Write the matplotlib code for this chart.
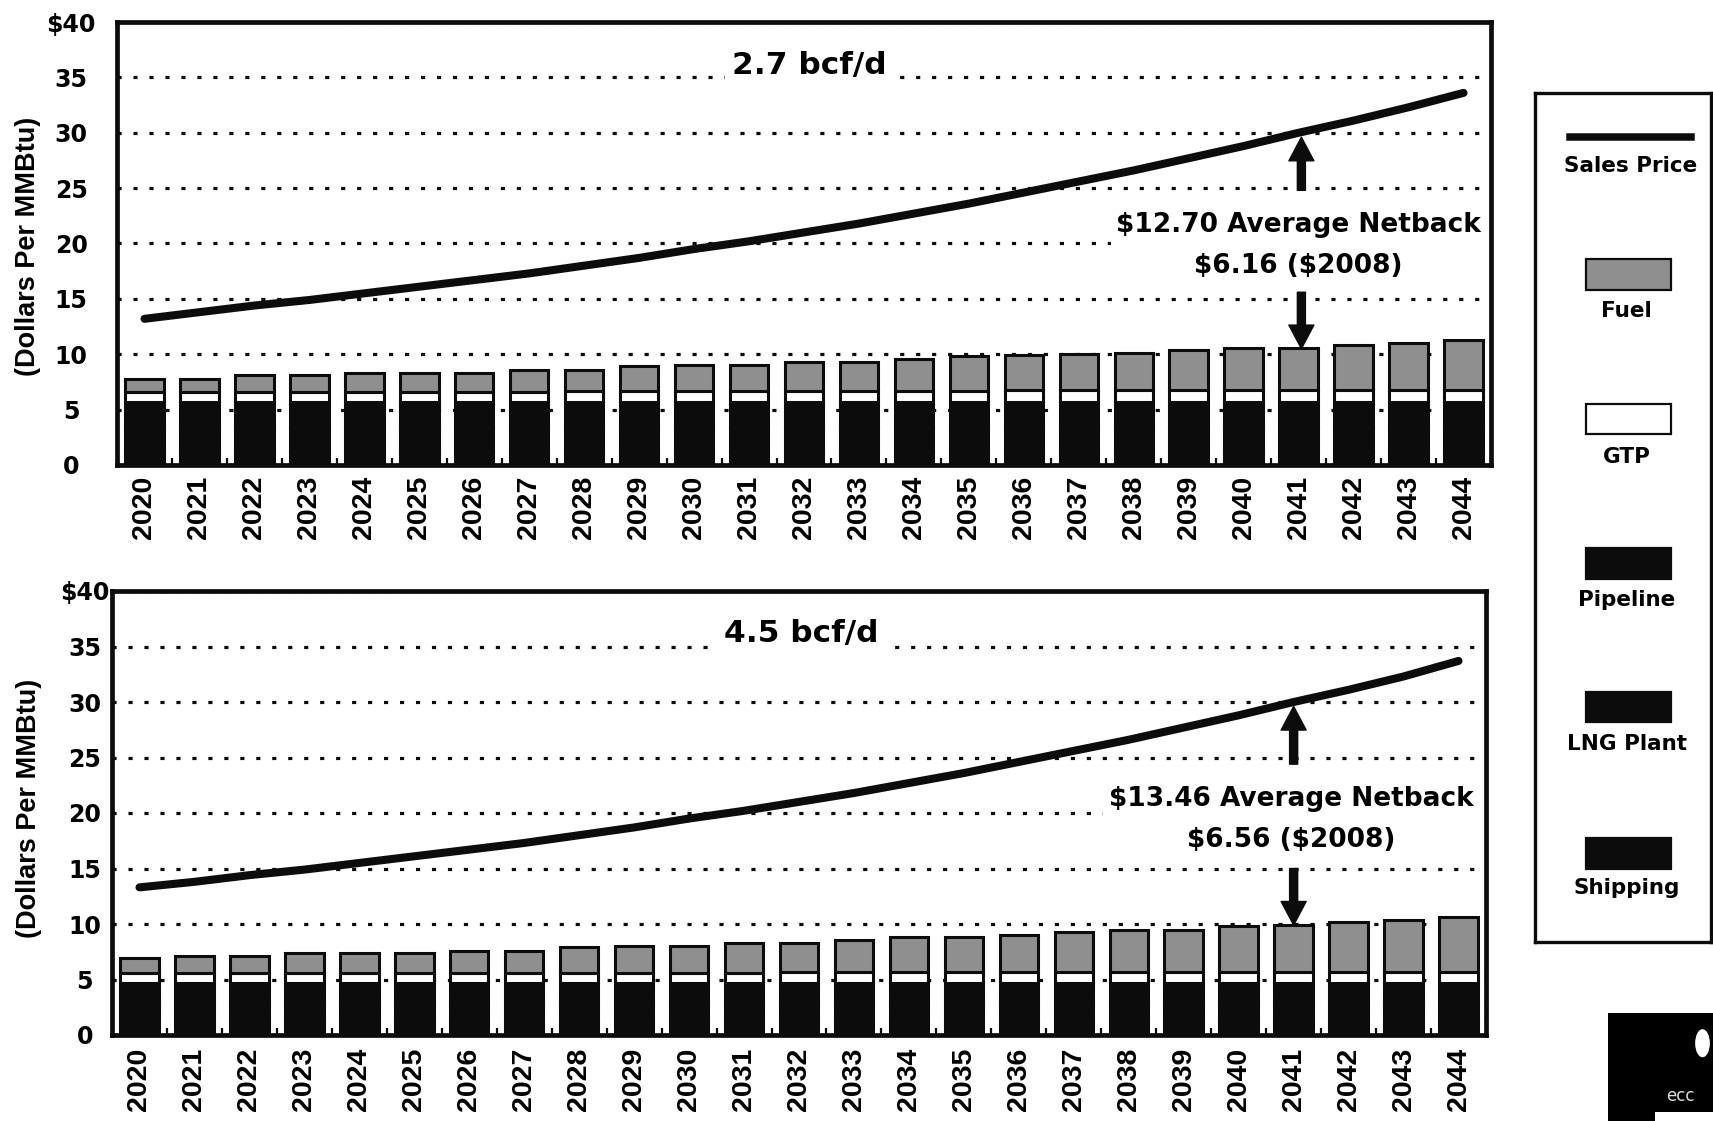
import matplotlib
matplotlib.use("Agg")
import matplotlib.pyplot as plt
from matplotlib import font_manager as fm
from matplotlib.patches import Rectangle, Ellipse
from matplotlib.lines import Line2D
from matplotlib.ticker import FixedLocator

# ---------------- data ----------------
years = [str(y) for y in range(2020, 2045)]

# 2.7 bcf/d case ($/MMBtu)
shipping_27 = [1.30] * 25
lng_plant_27 = [2.05] * 25
pipeline_27 = [2.30] * 25
gtp_27 = [0.95] * 8 + [1.00] * 8 + [1.10] * 9
fuel_27 = [1.20, 1.20, 1.50, 1.50, 1.70, 1.70, 1.70, 2.00, 1.95, 2.25,
           2.35, 2.35, 2.65, 2.65, 2.95, 3.15, 3.15, 3.30, 3.40, 3.65,
           3.80, 3.80, 4.10, 4.30, 4.55]
sales_27 = [13.2, 13.8, 14.4, 14.9, 15.5, 16.1, 16.7, 17.3, 18.0, 18.7,
            19.5, 20.2, 21.0, 21.8, 22.7, 23.6, 24.6, 25.6, 26.6, 27.7,
            28.8, 30.0, 31.1, 32.3, 33.6]

# 4.5 bcf/d case ($/MMBtu)
shipping_45 = [1.10] * 25
lng_plant_45 = [1.60] * 25
pipeline_45 = [1.95] * 25
gtp_45 = [0.95] * 12 + [1.05] * 13
fuel_45 = [1.35, 1.50, 1.50, 1.80, 1.80, 1.80, 2.00, 1.95, 2.30, 2.40,
           2.40, 2.70, 2.60, 2.90, 3.10, 3.10, 3.30, 3.60, 3.80, 3.80,
           4.10, 4.20, 4.45, 4.70, 4.90]
sales_45 = [13.3, 13.8, 14.4, 14.9, 15.5, 16.1, 16.7, 17.3, 18.0, 18.7,
            19.5, 20.2, 21.0, 21.8, 22.7, 23.6, 24.6, 25.6, 26.6, 27.7,
            28.8, 30.0, 31.1, 32.3, 33.7]

y_ticks = [0, 5, 10, 15, 20, 25, 30, 35, 40]
y_tick_labels = ["0", "5", "10", "15", "20", "25", "30", "35", "$40"]

legend_labels = ["Sales Price", "Fuel", "GTP", "Pipeline", "LNG Plant", "Shipping"]

# ---------------- style ----------------
BLACK = "#0c0c0c"
FUEL = "#8f8f8f"
WIDE = "DejaVu Sans"


def has_font(name):
    try:
        fm.findfont(fm.FontProperties(family=name), fallback_to_default=False)
        return True
    except Exception:
        return False


if has_font("Liberation Sans Narrow"):
    YEAR_FONT, YEAR_SIZE = "Liberation Sans Narrow", 24.5
else:
    YEAR_FONT, YEAR_SIZE = "Liberation Sans", 20.5

fig = plt.figure(figsize=(17.13, 11.21), dpi=100)
W, H = 1713.0, 1121.0


def px_axes(left, top, right, bottom):
    return fig.add_axes([left / W, 1 - bottom / H, (right - left) / W, (bottom - top) / H])


def draw_panel(ax, ship, lng, pipe, gtp, fuel, sales, title, note, note_xy,
               up_arrow, down_arrow, ytick_pad, xtick_pad, ylabel_x, ylabel_y):
    x = list(range(len(years)))
    bw = 0.70
    ekw = dict(edgecolor=BLACK, linewidth=2.2, zorder=2)
    b1 = [s for s in ship]
    b2 = [s + l for s, l in zip(ship, lng)]
    b3 = [a + p for a, p in zip(b2, pipe)]
    b4 = [a + g for a, g in zip(b3, gtp)]
    ax.bar(x, ship, bw, color=BLACK, **ekw)
    ax.bar(x, lng, bw, bottom=b1, color=BLACK, **ekw)
    ax.bar(x, pipe, bw, bottom=b2, color=BLACK, **ekw)
    ax.bar(x, gtp, bw, bottom=b3, color="white", **ekw)
    ax.bar(x, fuel, bw, bottom=b4, color=FUEL, **ekw)

    ax.plot(x, sales, color=BLACK, linewidth=5.8, solid_capstyle="round", zorder=4)

    ax.set_xlim(-0.5, len(years) - 0.5)
    ax.set_ylim(0, 40)
    ax.set_axisbelow(True)
    ax.yaxis.grid(True, color=BLACK, linewidth=2.3, linestyle=(0, (1.3, 3.7)))
    ax.xaxis.grid(False)

    ax.set_yticks(y_ticks, y_tick_labels, fontfamily=WIDE, fontweight="bold", fontsize=17)
    for lbl in ax.get_yticklabels():
        lbl.set_horizontalalignment("center")
    ax.tick_params(axis="y", length=0, pad=ytick_pad)

    ax.set_xticks(x, years, rotation=90, fontfamily=YEAR_FONT, fontweight="bold",
                  fontsize=YEAR_SIZE)
    ax.tick_params(axis="x", length=0, pad=xtick_pad)
    ax.xaxis.set_minor_locator(FixedLocator([i + 0.5 for i in x[:-1]]))
    ax.tick_params(axis="x", which="minor", direction="in", length=5, width=1.6,
                   color=BLACK)

    for sp in ax.spines.values():
        sp.set_linewidth(3.4)
        sp.set_color(BLACK)
        sp.set_zorder(6)

    ax.set_ylabel("(Dollars Per MMBtu)", fontfamily="Liberation Sans", fontweight="bold",
                  fontsize=19.5, va="center")
    ax.yaxis.set_label_coords(ylabel_x, ylabel_y)

    ax.text(title[1], title[2], title[0], ha="center", va="center", fontfamily=WIDE,
            fontweight="bold", fontsize=22.5, zorder=5, parse_math=False,
            bbox=dict(facecolor="white", edgecolor="none", pad=5))
    ax.text(note_xy[0], note_xy[1], note, ha="center", va="center", multialignment="center",
            fontfamily=WIDE, fontweight="bold", fontsize=19, linespacing=1.75, zorder=5,
            parse_math=False, bbox=dict(facecolor="white", edgecolor="none", pad=4))

    aprops = dict(width=5.8, headwidth=18, headlength=17, facecolor=BLACK,
                  edgecolor=BLACK, shrink=0)
    ax.annotate("", xy=(up_arrow[0], up_arrow[2]), xytext=(up_arrow[0], up_arrow[1]),
                arrowprops=aprops, zorder=5)
    ax.annotate("", xy=(down_arrow[0], down_arrow[2]), xytext=(down_arrow[0], down_arrow[1]),
                arrowprops=aprops, zorder=5)


ax1 = px_axes(117, 22, 1491, 465)
draw_panel(ax1, shipping_27, lng_plant_27, pipeline_27, gtp_27, fuel_27, sales_27,
           ("2.7 bcf/d", 12.1, 36.05),
           "$12.70 Average Netback\n$6.16 ($2008)", (21.0, 19.8),
           (21.05, 24.8, 29.6), (21.05, 15.6, 10.5),
           ytick_pad=33, xtick_pad=8, ylabel_x=-0.065, ylabel_y=0.494)

ax2 = px_axes(112, 591, 1486, 1035)
draw_panel(ax2, shipping_45, lng_plant_45, pipeline_45, gtp_45, fuel_45, sales_45,
           ("4.5 bcf/d", 12.05, 36.15),
           "$13.46 Average Netback\n$6.56 ($2008)", (20.95, 19.45),
           (21.0, 24.4, 29.6), (21.0, 15.0, 9.9),
           ytick_pad=19.5, xtick_pad=9, ylabel_x=-0.0607, ylabel_y=0.511)

# ---------------- legend panel ----------------
lax = px_axes(1535, 93, 1711, 942)
lax.set_xlim(0, 1)
lax.set_ylim(0, 1)
lax.set_xticks([])
lax.set_yticks([])
for sp in lax.spines.values():
    sp.set_linewidth(2.4)
    sp.set_color(BLACK)

lax.add_line(Line2D([0.20, 0.885], [0.948, 0.948], color=BLACK, linewidth=5.4))
swatch_colors = [FUEL, "white", BLACK, BLACK, BLACK]
swatch_rows = [(0.768, 0.804), (0.598, 0.634), (0.428, 0.464), (0.259, 0.294), (0.086, 0.122)]
label_rows = [0.914, 0.743, 0.571, 0.403, 0.233, 0.064]
for c, (y0, y1) in zip(swatch_colors, swatch_rows):
    lax.add_patch(Rectangle((0.29, y0), 0.48, y1 - y0, facecolor=c, edgecolor=BLACK,
                            linewidth=1.6))
for i, (lab, y) in enumerate(zip(legend_labels, label_rows)):
    lax.text(0.545 if i == 0 else 0.52, y, lab, ha="center", va="center", fontfamily=WIDE,
             fontweight="bold", fontsize=15.5)

# ---------------- logo corner ----------------
gax = px_axes(1608, 1013, 1713, 1121)
gax.set_xlim(0, 1)
gax.set_ylim(0, 1)
gax.axis("off")
gax.add_patch(Rectangle((0, 0), 1, 1, facecolor="black", edgecolor="none"))
gax.add_patch(Ellipse((0.9, 0.72), 0.14, 0.26, facecolor="white", edgecolor="none"))
gax.add_patch(Rectangle((0.45, 0), 0.55, 0.085, facecolor="white", edgecolor="none"))
gax.text(0.55, 0.23, "ecc", color="#dddddd", fontfamily=WIDE, fontsize=12,
         ha="left", va="center")

fig.savefig("out.png", dpi=100)
